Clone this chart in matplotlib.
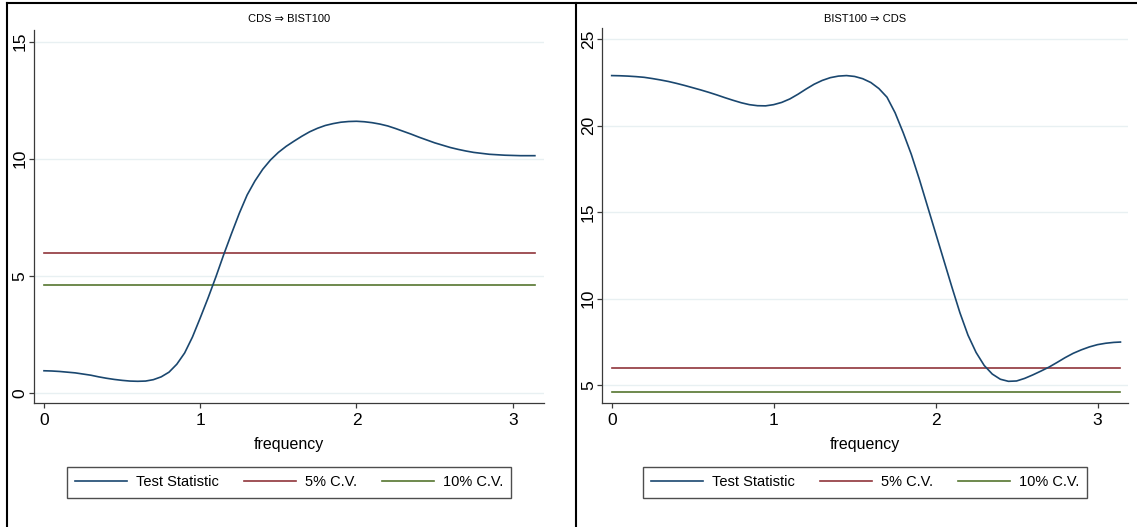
#!/usr/bin/env python3
"""Frequency-domain causality test statistic vs critical values (two panels)."""
import matplotlib
matplotlib.use('Agg')
import matplotlib.pyplot as plt
from matplotlib.lines import Line2D

FREQ = [0.00, 0.05, 0.10, 0.15, 0.20, 0.25, 0.30, 0.35, 0.40, 0.45,
        0.50, 0.55, 0.60, 0.65, 0.70, 0.75, 0.80, 0.85, 0.90, 0.95,
        1.00, 1.05, 1.10, 1.15, 1.20, 1.25, 1.30, 1.35, 1.40, 1.45,
        1.50, 1.55, 1.60, 1.65, 1.70, 1.75, 1.80, 1.85, 1.90, 1.95,
        2.00, 2.05, 2.10, 2.15, 2.20, 2.25, 2.30, 2.35, 2.40, 2.45,
        2.50, 2.55, 2.60, 2.65, 2.70, 2.75, 2.80, 2.85, 2.90, 2.95,
        3.00, 3.05, 3.10, 3.1416]

# CDS => BIST100
STAT_LEFT = [0.94, 0.93, 0.91, 0.88, 0.85, 0.80, 0.75, 0.68, 0.62, 0.57,
             0.53, 0.50, 0.49, 0.50, 0.56, 0.68, 0.88, 1.22, 1.70, 2.38,
             3.20, 4.05, 4.95, 5.90, 6.80, 7.67, 8.45, 9.05, 9.55, 9.95,
             10.27, 10.53, 10.75, 10.96, 11.15, 11.30, 11.42, 11.50, 11.56, 11.59,
             11.60, 11.58, 11.54, 11.48, 11.40, 11.29, 11.17, 11.05, 10.92, 10.80,
             10.68, 10.58, 10.48, 10.40, 10.33, 10.27, 10.23, 10.19, 10.17, 10.15,
             10.14, 10.13, 10.13, 10.13]
# BIST100 => CDS
STAT_RIGHT = [22.90, 22.89, 22.87, 22.84, 22.80, 22.73, 22.65, 22.56, 22.45, 22.33,
              22.20, 22.07, 21.93, 21.78, 21.62, 21.47, 21.33, 21.22, 21.16, 21.15,
              21.22, 21.35, 21.55, 21.82, 22.12, 22.40, 22.62, 22.78, 22.87, 22.90,
              22.85, 22.72, 22.50, 22.15, 21.65, 20.75, 19.60, 18.35, 16.90, 15.35,
              13.80, 12.25, 10.70, 9.20, 7.90, 6.90, 6.15, 5.65, 5.35, 5.23,
              5.25, 5.40, 5.60, 5.82, 6.05, 6.32, 6.60, 6.85, 7.05, 7.22,
              7.35, 7.43, 7.48, 7.50]

CV5 = 5.99
CV10 = 4.61

TITLES = ['CDS \u21d2 BIST100', 'BIST100 \u21d2 CDS']
LABELS = ['Test Statistic', '5% C.V.', '10% C.V.']
YTICKS = [[0, 5, 10, 15], [5, 10, 15, 20, 25]]
XTICKS = [0, 1, 2, 3]

NAVY = '#1a476f'
MAROON = '#90353b'
GREEN = '#55752f'
FONT = ['Liberation Sans', 'DejaVu Sans']

W, H = 1137, 527


def panel(fig, rect, stat, title, yticks, ylim, xlim, leg_x):
    ax = fig.add_axes(rect)
    cv5 = [CV5] * len(FREQ)
    cv10 = [CV10] * len(FREQ)
    ax.plot(FREQ, stat, color=NAVY, lw=1.2, zorder=3)
    ax.plot(FREQ, cv5, color=MAROON, lw=1.2, zorder=2)
    ax.plot(FREQ, cv10, color=GREEN, lw=1.2, zorder=2)

    ax.set_xlim(*xlim)
    ax.set_ylim(*ylim)
    ax.set_xticks(XTICKS)
    ax.set_yticks(yticks)
    ax.yaxis.grid(True, color='#e8f0f2', lw=1.0)
    ax.set_axisbelow(True)
    for s in ('top', 'right'):
        ax.spines[s].set_visible(False)
    for s in ('left', 'bottom'):
        ax.spines[s].set_color('#3a3a3a')
        ax.spines[s].set_linewidth(0.9)
    ax.tick_params(direction='out', length=3.8, width=0.9, color='#3a3a3a',
                   labelsize=12.5)
    ax.tick_params(axis='x', pad=3)
    ax.tick_params(axis='y', pad=0.8)
    for lab in ax.get_xticklabels():
        lab.set_family(FONT)
    for lab in ax.get_yticklabels():
        lab.set_family(FONT)
        lab.set_rotation(90)
        lab.set_va('center')

    cx = rect[0] + rect[2] / 2
    fig.text(cx, 1 - 19 / H, title, ha='center', va='center', fontsize=8,
             family=FONT)
    fig.text(cx, 1 - 445 / H, 'frequency', ha='center', va='center',
             fontsize=11.5, family=FONT)

    handles = [Line2D([], [], color=c, lw=1.2) for c in (NAVY, MAROON, GREEN)]
    leg = fig.legend(handles, LABELS, loc='center', ncol=3,
                     bbox_to_anchor=(leg_x / W, 1 - 482.5 / H),
                     bbox_transform=fig.transFigure, frameon=True,
                     fancybox=False, handlelength=3.6, handletextpad=0.6,
                     columnspacing=1.7, borderpad=0.55,
                     prop={'family': FONT, 'size': 10.5})
    leg.get_frame().set_edgecolor('#222222')
    leg.get_frame().set_linewidth(1.0)
    return ax


def main():
    plt.rcParams['font.family'] = FONT
    fig = plt.figure(figsize=(W / 100, H / 100), dpi=100)

    panel(fig, [34 / W, 1 - 403.3 / H, 510 / W, 373.3 / H],
          STAT_LEFT, TITLES[0], YTICKS[0], (-0.45, 15.5), (-0.064, 3.2), 289)
    panel(fig, [602.3 / W, 1 - 403.3 / H, 526 / W, 375.3 / H],
          STAT_RIGHT, TITLES[1], YTICKS[1], (3.96, 25.65), (-0.058, 3.19), 865)

    # black frame lines around the two panels
    k = dict(color='black', lw=1.5, transform=fig.transFigure)
    fig.add_artist(Line2D([7 / W, 7 / W], [0, 1 - 3 / H], **k))
    fig.add_artist(Line2D([7 / W, 1], [1 - 3 / H, 1 - 3 / H], **k))
    fig.add_artist(Line2D([575.5 / W, 575.5 / W], [0, 1 - 3 / H], **k))

    fig.savefig('out.png', dpi=100)


if __name__ == '__main__':
    main()
